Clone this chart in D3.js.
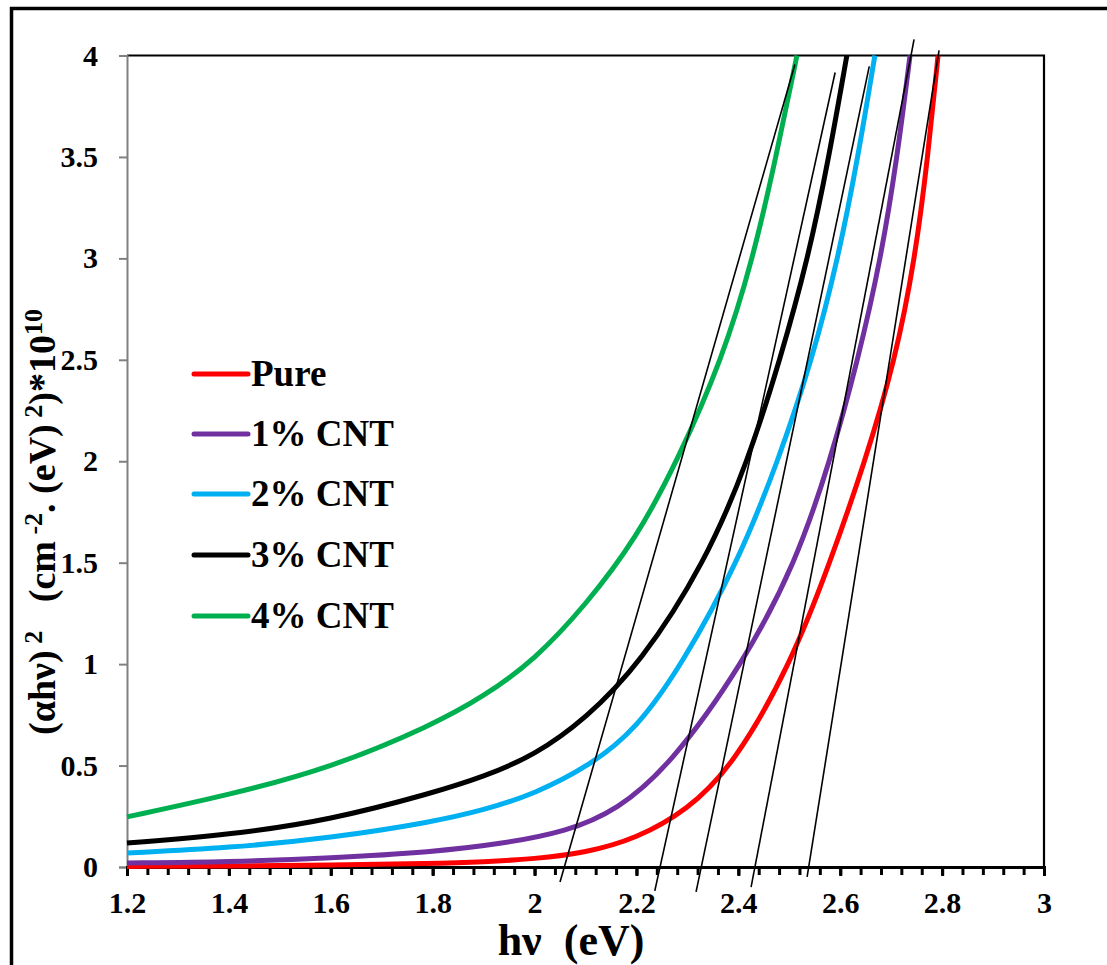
<!DOCTYPE html>
<html><head><meta charset="utf-8">
<script src="https://cdn.jsdelivr.net/npm/d3@7/dist/d3.min.js"></script>
<style>
html,body{margin:0;padding:0;background:#fff;}
svg text{font-family:"Liberation Serif","Times New Roman",Times,serif;font-weight:bold;fill:#000;}
</style></head>
<body><svg id="chart" width="1107" height="965"></svg>
<script>
// ---- data ----
const seriesNames = ["Pure","1% CNT","2% CNT","3% CNT","4% CNT"];
const seriesColors = ["#ff0000","#7030a0","#00b0f0","#000000","#00b050"];
const pureX = [1.2,1.4,1.6,1.8,1.9,2.0,2.1,2.2,2.3,2.39,2.503,2.58,2.649,2.708,2.747,2.772,2.792];
const pureY = [0.003,0.005,0.009,0.017,0.025,0.04,0.07,0.14,0.28,0.5,1.0,1.5,2.0,2.5,3.0,3.5,4.0];
const cnt1X = [1.2,1.4,1.6,1.8,1.932,2.064,2.162,2.266,2.409,2.513,2.58,2.635,2.68,2.712,2.737];
const cnt1Y = [0.02,0.025,0.044,0.074,0.113,0.175,0.28,0.5,1.0,1.5,2.0,2.5,3.0,3.5,4.0];
const cnt2X = [1.2,1.4,1.6,1.8,1.9,2.0,2.109,2.2,2.29,2.399,2.478,2.545,2.596,2.635,2.668];
const cnt2Y = [0.069,0.094,0.143,0.222,0.28,0.36,0.5,0.68,1.0,1.5,2.0,2.5,3.0,3.5,4.0];
const cnt3X = [1.2,1.4,1.6,1.8,1.9,2.0,2.1,2.207,2.335,2.419,2.482,2.537,2.578,2.613];
const cnt3Y = [0.118,0.158,0.232,0.365,0.445,0.55,0.73,1.0,1.5,2.0,2.5,3.0,3.5,4.0];
const cnt4X = [1.2,1.4,1.6,1.8,1.9,2.0,2.1,2.2,2.28,2.368,2.429,2.474,2.515];
const cnt4Y = [0.247,0.355,0.488,0.70,0.84,1.02,1.29,1.62,2.0,2.5,3.0,3.5,4.0];
// tangent (Tauc extrapolation) lines: start/end points in data units
const tangentX1 = [2.050,2.236,2.317,2.425,2.535];
const tangentY1 = [-0.074,-0.118,-0.123,-0.099,-0.049];
const tangentX2 = [2.511,2.590,2.657,2.745,2.794];
const tangentY2 = [3.956,3.916,3.946,4.079,4.025];
const xTicks = [1.2,1.4,1.6,1.8,2,2.2,2.4,2.6,2.8,3];
const yTicks = [0,0.5,1,1.5,2,2.5,3,3.5,4];

const seriesX = [pureX,cnt1X,cnt2X,cnt3X,cnt4X];
const seriesY = [pureY,cnt1Y,cnt2Y,cnt3Y,cnt4Y];

const FONT = '"Liberation Serif","Times New Roman",Times,serif';
const svg = d3.select("#chart");
const L=127, R=1044, T=55.5, B=867;
const x = d3.scaleLinear().domain([1.2,3]).range([L,R]);
const y = d3.scaleLinear().domain([0,4]).range([B,T]);

// outer frame
svg.append("rect").attr("x",11.5).attr("y",8.5).attr("width",1200).attr("height",1200)
  .attr("fill","none").attr("stroke","#000").attr("stroke-width",3.5);

// plot border top and right
svg.append("path").attr("d",`M${L},${T}H${R}V${B}`).attr("fill","none").attr("stroke","#000").attr("stroke-width",2.2);

// y axis (gray)
const yAxis = d3.axisLeft(y).tickValues(yTicks).tickSize(8).tickPadding(21).tickFormat(d=>d3.format("")(d));
const gy = svg.append("g").attr("transform",`translate(${L},0)`).call(yAxis);
gy.attr("font-family",FONT);
gy.select(".domain").attr("stroke","#808080").attr("stroke-width",2);
gy.selectAll(".tick line").attr("stroke","#808080").attr("stroke-width",2);
gy.selectAll(".tick text").style("font-size","30px");

// x axis (black, minor ticks)
const minor = d3.range(0,46).map(i=>1.2+i*0.04);
const gxm = svg.append("g").attr("transform",`translate(0,${B})`)
  .call(d3.axisBottom(x).tickValues(minor).tickSize(8).tickFormat(""));
gxm.select(".domain").remove();
gxm.selectAll(".tick line").attr("stroke","#000").attr("stroke-width",3);
const gx = svg.append("g").attr("transform",`translate(0,${B})`)
  .call(d3.axisBottom(x).tickValues(xTicks).tickSize(9).tickPadding(16).tickFormat(d=>d3.format("")(d)));
gx.attr("font-family",FONT);
gx.select(".domain").attr("stroke","#000").attr("stroke-width",3);
gx.selectAll(".tick line").attr("stroke","#000").attr("stroke-width",3);
gx.selectAll(".tick text").style("font-size","30px");

// curves
const line = d3.line().x(d=>x(d[0])).y(d=>y(d[1])).curve(d3.curveBasis);
seriesX.forEach((xs,i)=>{
  const pts = xs.map((v,j)=>[v,seriesY[i][j]]);
  svg.append("path").attr("d",line(pts)).attr("fill","none")
    .attr("stroke",seriesColors[i]).attr("stroke-width",5).attr("stroke-linejoin","round");
});

// tangent lines
tangentX1.forEach((v,i)=>{
  svg.append("line").attr("x1",x(v)).attr("y1",y(tangentY1[i]))
    .attr("x2",x(tangentX2[i])).attr("y2",y(tangentY2[i]))
    .attr("stroke","#000").attr("stroke-width",1.6);
});

// legend
const legY = [374,434,494,555,616];
seriesNames.forEach((n,i)=>{
  svg.append("line").attr("x1",194).attr("x2",248).attr("y1",legY[i]).attr("y2",legY[i])
    .attr("stroke",seriesColors[i]).attr("stroke-width",5).attr("stroke-linecap","round");
  svg.append("text").attr("x",251).attr("y",legY[i]+12).style("font-size","37px").text(n);
});

// x title
svg.append("text").attr("x",571).attr("y",955).attr("text-anchor","middle")
  .style("font-size","44px").style("white-space","pre").text("hν  (eV)");

// y title
const yt = svg.append("text").attr("transform","translate(55,522) rotate(-90)").attr("text-anchor","middle")
  .style("font-size","38px").style("white-space","pre");
yt.append("tspan").text("(αhν)");
yt.append("tspan").attr("dy",-13).style("font-size","26px").text(" 2");
yt.append("tspan").attr("dy",13).text("   (cm");
yt.append("tspan").attr("dy",-13).style("font-size","26px").text(" -2");
yt.append("tspan").attr("dy",13).text(". (eV)");
yt.append("tspan").attr("dy",-13).style("font-size","26px").text(" 2");
yt.append("tspan").attr("dy",13).text(")*10");
yt.append("tspan").attr("dy",-13).style("font-size","26px").text("10");
</script></body></html>
